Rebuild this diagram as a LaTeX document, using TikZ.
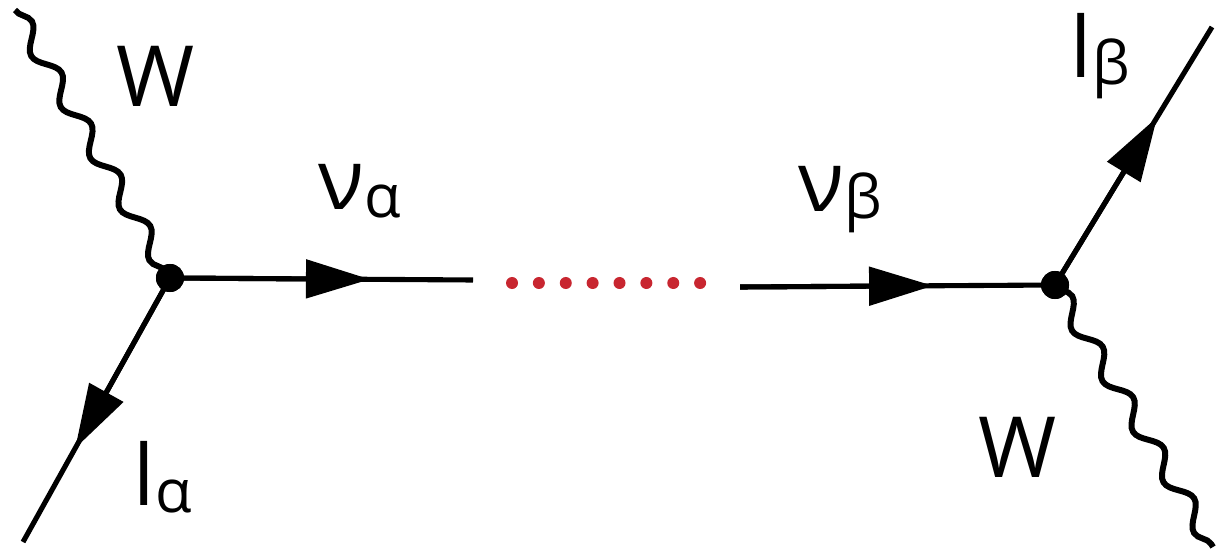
\documentclass[tikz,border=0pt]{standalone}
\usepackage{fontspec}
\setmainfont{Open Sans}
\usetikzlibrary{arrows.meta,decorations.pathmorphing,calc}
\definecolor{dotred}{RGB}{200,38,48}
\tikzset{
  fermion/.style={line width=1.45pt},
  boson/.style={line width=1.7pt, decorate,
    decoration={snake, amplitude=0.09cm, segment length=0.59cm}},
  vtx/.style={circle, fill=black, inner sep=0pt, minimum size=0.28cm},
  midarrow/.style={line width=1.45pt, -{Triangle[length=6.4mm,width=3.8mm]}},
  reddots/.style={draw=dotred, line width=0.12cm, line cap=round,
    dash pattern=on 0pt off 0.2686cm},
  lbl/.style={anchor=base west, inner sep=0pt, font=\fontsize{24}{28}\selectfont},
}
\newcommand\lowsub[1]{\raisebox{-0.07cm}{\fontsize{17}{20}\selectfont #1}}
\begin{document}
\begin{tikzpicture}[x=0.01cm, y=-0.01cm]
  \useasboundingbox (0,0) rectangle (1216,552);

  % vertices
  \node[vtx] (L) at (170,278) {};
  \node[vtx] (R) at (1055,285) {};

  % free ends
  \coordinate (wlend) at (15,10);
  \coordinate (laend) at (23,542);
  \coordinate (naend) at (473,280);
  \coordinate (nbstart) at (740,287);
  \coordinate (lbend) at (1212,27);
  \coordinate (wrend) at (1213,547);
  \coordinate (d1) at (512,283);
  \coordinate (d2) at (701,283);

  % W bosons
  \draw[boson] (wlend) -- (L.center);
  \draw[boson] (R.center) -- (wrend);

  % fermion lines
  \draw[fermion] (L.center) -- (naend);
  \draw[midarrow] (L.center) -- ($(L.center)!0.66!(naend)$);
  \draw[fermion] (L.center) -- (laend);
  \draw[midarrow] (L.center) -- ($(L.center)!0.645!(laend)$);
  \draw[fermion] (nbstart) -- (R.center);
  \draw[midarrow] (nbstart) -- ($(nbstart)!0.613!(R.center)$);
  \draw[fermion] (R.center) -- (lbend);
  \draw[midarrow] (R.center) -- ($(R.center)!0.65!(lbend)$);

  % oscillation gap
  \draw[reddots] (d1) -- (d2);

  % vertex dots on top
  \node[vtx] at (L) {};
  \node[vtx] at (R) {};

  % labels
  \node[lbl] (wl) at (116,107) {W};
  \node[lbl] (na) at (318,210) {ν\lowsub{α}};
  \node[lbl] (la) at (133,505) {l\lowsub{α}};
  \node[lbl] (nb) at (798,212) {ν\lowsub{β}};
  \node[lbl] (lb) at (1070,78) {l\lowsub{β}};
  \node[lbl] (wr) at (978,477) {W};
\end{tikzpicture}
\end{document}
